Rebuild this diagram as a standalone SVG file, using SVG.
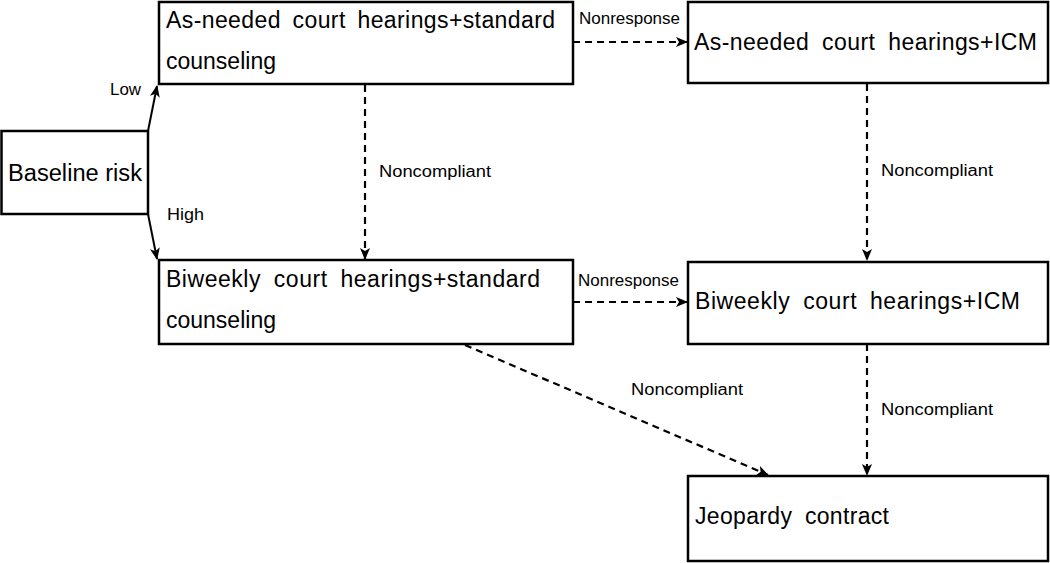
<svg xmlns="http://www.w3.org/2000/svg" width="1050" height="563" viewBox="0 0 1050 563">
<style>
.box{fill:#fff;stroke:#000;stroke-width:2.5}
.t{font-family:"Liberation Sans",Arial,sans-serif;font-size:23px;fill:#000}
.lb{font-family:"Liberation Sans",Arial,sans-serif;font-size:16px;fill:#000}
.solid{fill:none;stroke:#000;stroke-width:2}
.dash{fill:none;stroke:#000;stroke-width:2.2;stroke-dasharray:7 5}
</style>
<defs>
<marker id="ah" markerUnits="userSpaceOnUse" markerWidth="12" markerHeight="10" refX="11" refY="5" orient="auto">
<path d="M0,0 L12,5 L0,10 L3,5 z" fill="#000"/>
</marker>
</defs>
<rect width="1050" height="563" fill="#fff"/>
<g id="connectors">
<path class="solid" d="M148,131 L157,86" marker-end="url(#ah)"/>
<path class="solid" d="M148,214 L157,259" marker-end="url(#ah)"/>
<path class="dash" d="M365,85 L365,259" marker-end="url(#ah)"/>
<path class="dash" d="M573,42 L687,42" marker-end="url(#ah)"/>
<path class="dash" d="M867,84 L867,260" marker-end="url(#ah)"/>
<path class="dash" d="M573,302 L687,302" marker-end="url(#ah)"/>
<path class="dash" d="M867,344 L867,475" marker-end="url(#ah)"/>
<path class="dash" d="M465,345 L768,475" marker-end="url(#ah)"/>
<text class="lb" x="110" y="95" textLength="31" lengthAdjust="spacingAndGlyphs">Low</text>
<text class="lb" x="167" y="220" textLength="37" lengthAdjust="spacingAndGlyphs">High</text>
<text class="lb" x="379" y="177" textLength="112" lengthAdjust="spacingAndGlyphs">Noncompliant</text>
<text class="lb" x="579" y="24" textLength="101" lengthAdjust="spacingAndGlyphs">Nonresponse</text>
<text class="lb" x="881" y="176" textLength="112" lengthAdjust="spacingAndGlyphs">Noncompliant</text>
<text class="lb" x="578" y="286" textLength="101" lengthAdjust="spacingAndGlyphs">Nonresponse</text>
<text class="lb" x="881" y="415" textLength="112" lengthAdjust="spacingAndGlyphs">Noncompliant</text>
<text class="lb" x="631" y="395" textLength="112" lengthAdjust="spacingAndGlyphs">Noncompliant</text>
</g>
<g id="baseline">
<rect class="box" x="1.5" y="131" width="146.5" height="83"/>
<text class="t" x="8" y="181" textLength="134" lengthAdjust="spacingAndGlyphs">Baseline risk</text>
</g>
<g id="asneeded-standard">
<rect class="box" x="159" y="2" width="414" height="82"/>
<text class="t" x="166" y="28" word-spacing="5" textLength="389" lengthAdjust="spacing">As-needed court hearings+standard</text>
<text class="t" x="166" y="69">counseling</text>
</g>
<g id="asneeded-icm">
<rect class="box" x="688" y="2" width="360" height="81"/>
<text class="t" x="694" y="50" word-spacing="6" textLength="343" lengthAdjust="spacing">As-needed court hearings+ICM</text>
</g>
<g id="biweekly-standard">
<rect class="box" x="159" y="260" width="414" height="84"/>
<text class="t" x="166" y="287" word-spacing="6" textLength="374" lengthAdjust="spacing">Biweekly court hearings+standard</text>
<text class="t" x="166" y="328">counseling</text>
</g>
<g id="biweekly-icm">
<rect class="box" x="688" y="262" width="360" height="82"/>
<text class="t" x="695" y="309" word-spacing="6" textLength="325" lengthAdjust="spacing">Biweekly court hearings+ICM</text>
</g>
<g id="jeopardy">
<rect class="box" x="688" y="476" width="360" height="85"/>
<text class="t" x="695" y="524" word-spacing="6" textLength="194" lengthAdjust="spacing">Jeopardy contract</text>
</g>
</svg>
